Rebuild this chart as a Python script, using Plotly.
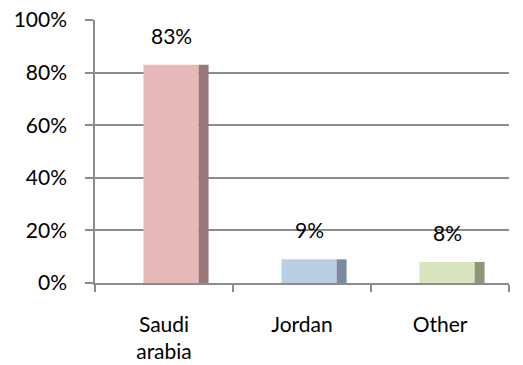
import plotly.graph_objects as go

# Share of respondents by country
categories = ["Saudi<br>arabia", "Jordan", "Other"]
shares = [0.83, 0.09, 0.08]
value_labels = ["83%", "9%", "8%"]

front_colors = ["#E6B9B8", "#B9CDE5", "#D7E4BD"]
side_colors = ["#987878", "#7A8BA1", "#8E9679"]

FONT = "Lato"
GRID = "#8c8c8c"

# pseudo-3D bar: lighter front face plus a darker side strip
front_offset, front_width = -0.149, 0.40
side_offset, side_width = front_offset + front_width, 0.072

fig = go.Figure()
fig.add_trace(go.Bar(
    x=categories, y=shares,
    offset=front_offset, width=front_width,
    marker=dict(color=front_colors, line=dict(width=0)),
    hoverinfo="skip",
))
fig.add_trace(go.Bar(
    x=categories, y=shares,
    offset=side_offset, width=side_width,
    marker=dict(color=side_colors, line=dict(width=0)),
    hoverinfo="skip",
))

for i, (v, t) in enumerate(zip(shares, value_labels)):
    fig.add_annotation(
        x=i + front_offset + front_width / 2, y=v, text=t,
        showarrow=False, yanchor="bottom", yshift=15,
        font=dict(family=FONT, size=21, color="#000000"),
    )

fig.update_layout(
    width=523, height=365,
    margin=dict(l=95, r=14, t=20, b=82),
    paper_bgcolor="white", plot_bgcolor="white",
    barmode="overlay", showlegend=False,
    font=dict(family=FONT, size=21, color="#000000"),
)
fig.update_xaxes(
    type="category", range=[-0.5, 2.5], automargin=False,
    showline=True, linecolor=GRID, linewidth=1.5,
    ticks="outside", tickson="boundaries", ticklen=7, tickcolor=GRID, tickwidth=1.5,
    ticklabelstandoff=22, showgrid=False,
    tickfont=dict(family=FONT, size=21),
)
fig.update_yaxes(
    range=[0, 1], dtick=0.2, tickformat=".0%", automargin=False,
    showline=True, linecolor=GRID, linewidth=1.5,
    ticks="outside", ticklen=8, tickcolor=GRID, tickwidth=1.5,
    showgrid=True, gridcolor=GRID, gridwidth=1.5,
    zeroline=False, ticklabelstandoff=14,
    tickfont=dict(family=FONT, size=21),
)

fig.write_html("out.html")
